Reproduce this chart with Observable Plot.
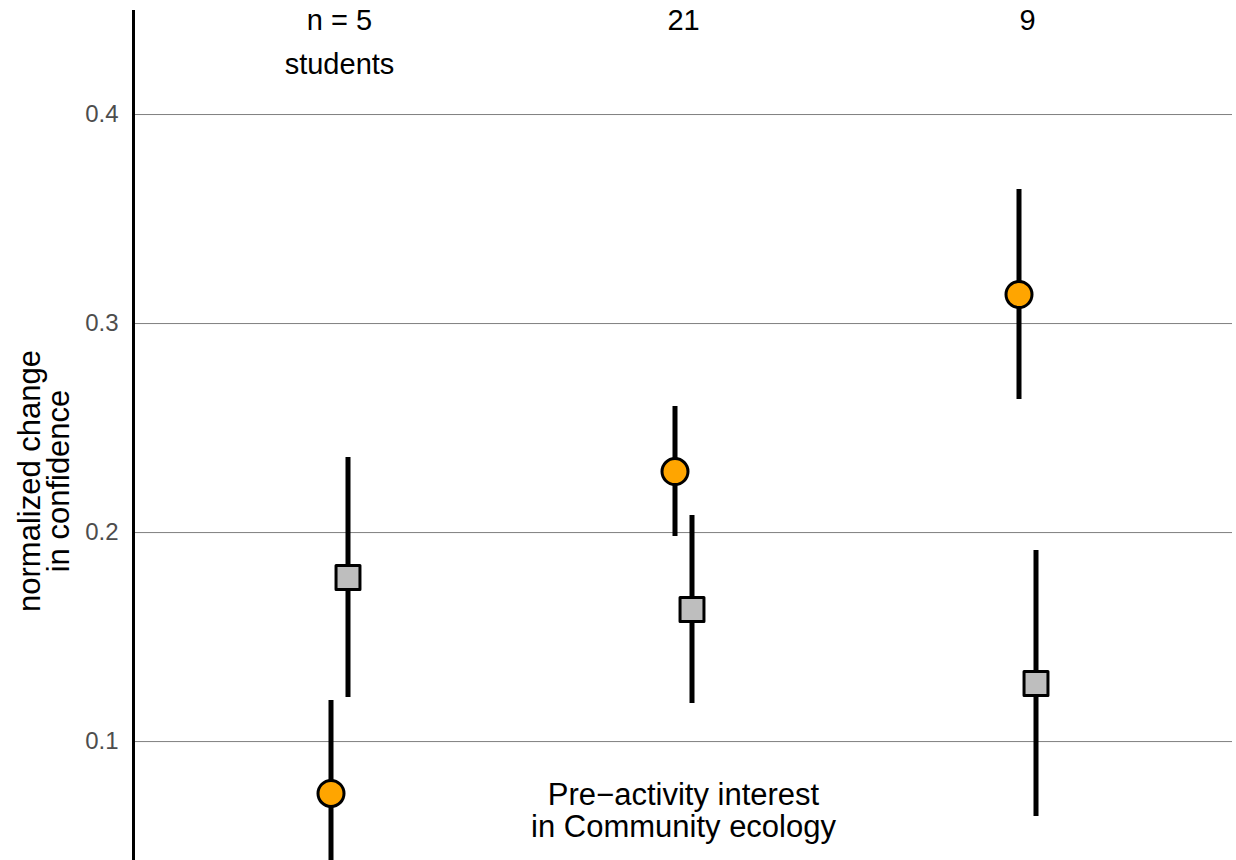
<!DOCTYPE html>
<html>
<head>
<meta charset="utf-8">
<script src="https://cdn.jsdelivr.net/npm/d3@7"></script>
<script src="https://cdn.jsdelivr.net/npm/@observablehq/plot@0.6"></script>
<style>
  html, body { margin: 0; padding: 0; background: #ffffff; }
  svg { display: block; }
</style>
</head>
<body>
<div id="chart"></div>
<script>
// ---- data ----
const groups = ["low", "medium", "high"];
const nLabels = ["n = 5\nstudents", "21", "9"];

const circleMean = [0.0752, 0.2292, 0.3139];
const circleLow  = [0.030, 0.1981, 0.2637];
const circleHigh = [0.1197, 0.2603, 0.3641];

const squareMean = [0.1785, 0.1632, 0.1278];
const squareLow  = [0.1211, 0.1182, 0.0642];
const squareHigh = [0.2359, 0.2082, 0.1914];

const yTicks = [0.1, 0.2, 0.3, 0.4];
const yTitle = "normalized change\nin confidence";
const xNote = "Pre\u2212activity interest\nin Community ecology";
const xNoteY = 0.067;

const circles = groups.map((g, i) => ({group: g, mean: circleMean[i], lo: circleLow[i], hi: circleHigh[i]}));
const squares = groups.map((g, i) => ({group: g, mean: squareMean[i], lo: squareLow[i], hi: squareHigh[i]}));
const labels = groups.map((g, i) => ({group: g, text: nLabels[i]}));

const font = "Liberation Sans, Arial, Helvetica, sans-serif";
const off = 8.5;

const chart = Plot.plot({
  width: 1236,
  height: 860,
  marginLeft: 133,
  marginRight: 4,
  marginTop: 11,
  marginBottom: 0,
  style: {fontFamily: font, background: "#ffffff"},
  x: {type: "point", domain: groups, padding: 0.597, axis: null},
  y: {domain: [0.0431, 0.4493], axis: null},
  marks: [
    Plot.ruleY(yTicks, {stroke: "#7f7f7f", strokeWidth: 1}),
    Plot.axisY(yTicks, {tickSize: 0, tickPadding: 15, tickFormat: ".1f", fontSize: 24, fill: "#4d4d4d", label: null}),
    Plot.frame({anchor: "left", stroke: "#000", strokeWidth: 3}),
    Plot.ruleX(circles, {x: "group", y1: "lo", y2: "hi", dx: -off, stroke: "#000", strokeWidth: 5, clip: true}),
    Plot.ruleX(squares, {x: "group", y1: "lo", y2: "hi", dx: off, stroke: "#000", strokeWidth: 5, clip: true}),
    Plot.dot(circles, {x: "group", y: "mean", dx: -off, r: 13, fill: "#FFA500", stroke: "#000", strokeWidth: 3, symbol: "circle"}),
    Plot.dot(squares, {x: "group", y: "mean", dx: off, r: 13.5, fill: "#BEBEBE", stroke: "#000", strokeWidth: 3, symbol: "square", strokeLinejoin: "round"}),
    Plot.text(labels, {x: "group", text: "text", frameAnchor: "top", lineAnchor: "top", dy: -12, lineHeight: 1.5, fontSize: 29, fill: "#000"}),
    Plot.text([xNote], {x: () => groups[1], y: () => xNoteY, text: d => d, lineAnchor: "middle", lineHeight: 1.03, fontSize: 31, fill: "#000"}),
    Plot.text([yTitle], {frameAnchor: "left", text: d => d, rotate: -90, textAnchor: "middle", dx: -88, dy: 45, lineAnchor: "middle", lineHeight: 0.92, fontSize: 31, fill: "#000"})
  ]
});
document.getElementById("chart").appendChild(chart);
</script>
</body>
</html>
